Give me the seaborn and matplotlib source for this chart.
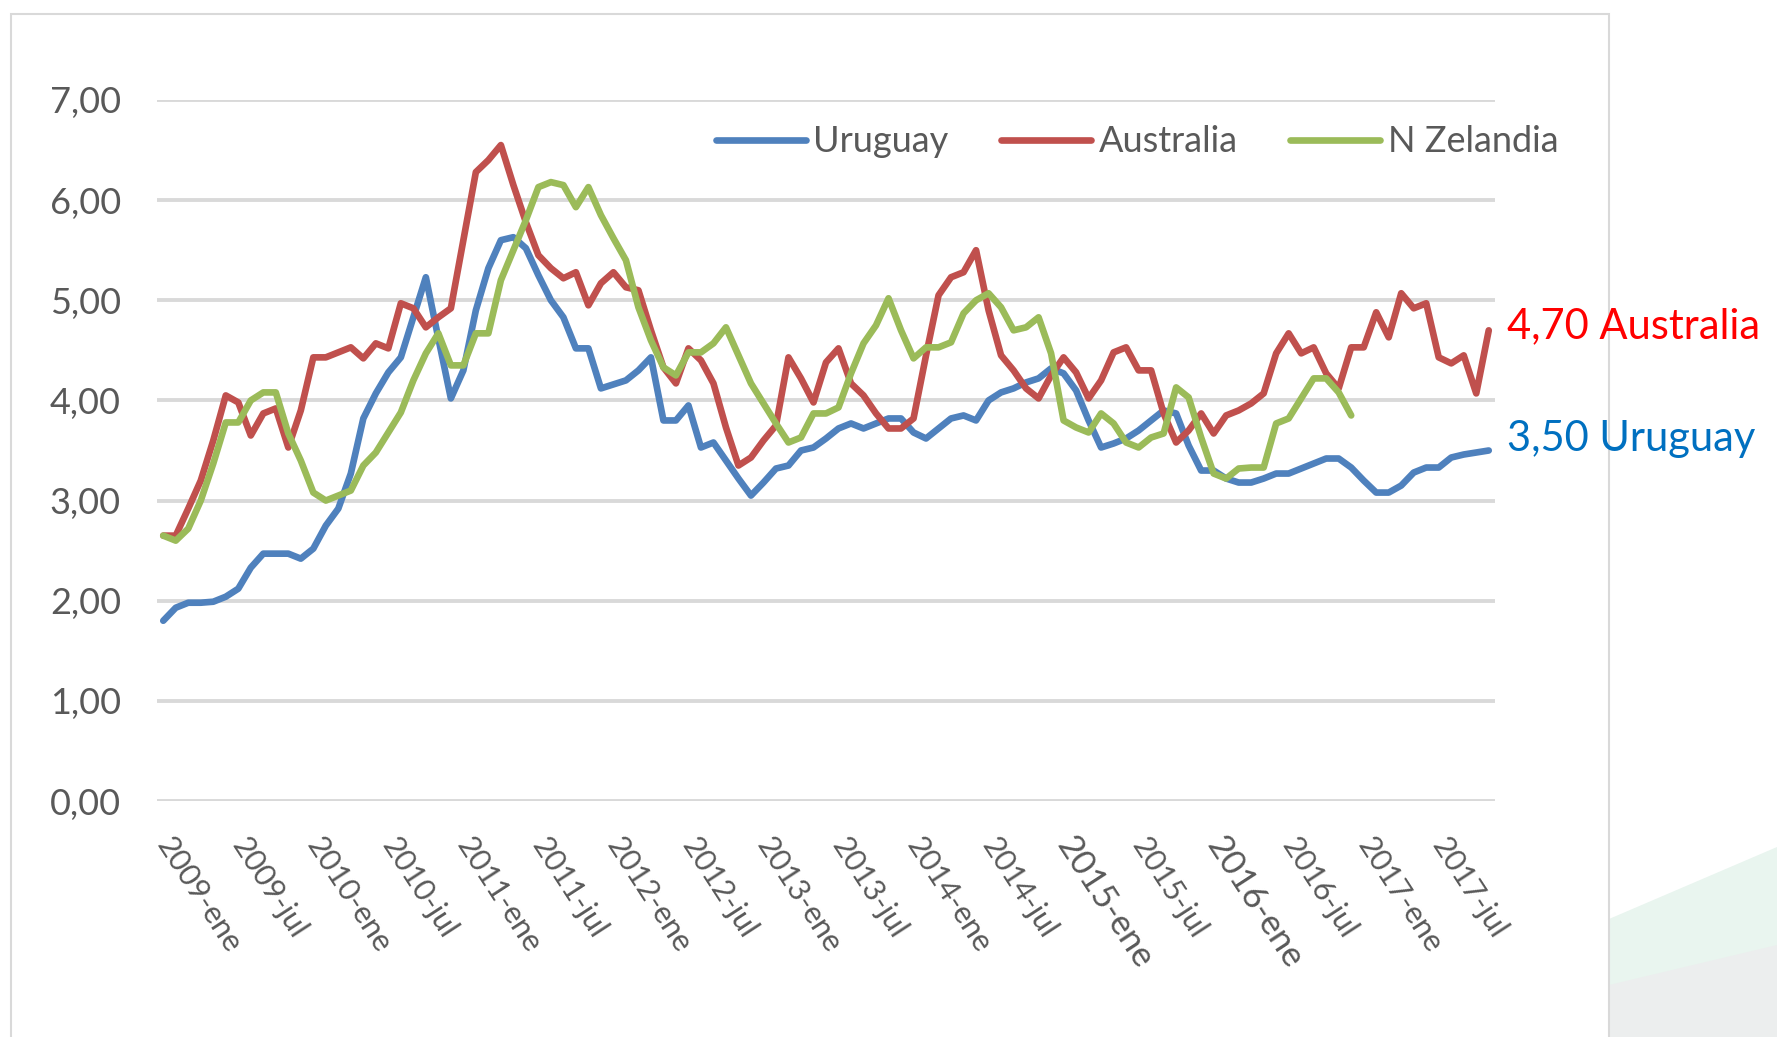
import numpy as np
import pandas as pd
import matplotlib
matplotlib.use("Agg")
import matplotlib.pyplot as plt
import seaborn as sns
from matplotlib import font_manager
from matplotlib.lines import Line2D
from matplotlib.patches import Rectangle, Polygon

# monthly series, 2009-ene .. 2017-nov
meses = ['ene', 'feb', 'mar', 'abr', 'may', 'jun', 'jul', 'ago', 'sep', 'oct', 'nov', 'dic']
periodos = [f"{a}-{m}" for a in range(2009, 2018) for m in meses][:107]

uruguay = [
    1.80, 1.93, 1.98, 1.98, 1.99, 2.04, 2.12, 2.33, 2.47, 2.47, 2.47, 2.42,
    2.52, 2.75, 2.92, 3.27, 3.82, 4.07, 4.28, 4.43, 4.83, 5.23, 4.62, 4.02,
    4.30, 4.90, 5.32, 5.60, 5.63, 5.52, 5.25, 5.00, 4.83, 4.52, 4.52, 4.12,
    4.16, 4.20, 4.30, 4.43, 3.80, 3.80, 3.95, 3.53, 3.58, 3.40, 3.22, 3.05,
    3.18, 3.32, 3.35, 3.50, 3.53, 3.62, 3.72, 3.77, 3.72, 3.77, 3.82, 3.82,
    3.68, 3.62, 3.72, 3.82, 3.85, 3.80, 4.00, 4.08, 4.12, 4.18, 4.22, 4.32,
    4.27, 4.10, 3.80, 3.53, 3.57, 3.62, 3.70, 3.80, 3.90, 3.87, 3.55, 3.30,
    3.30, 3.22, 3.18, 3.18, 3.22, 3.27, 3.27, 3.32, 3.37, 3.42, 3.42, 3.33,
    3.20, 3.08, 3.08, 3.15, 3.28, 3.33, 3.33, 3.43, 3.46, 3.48, 3.50,
]
australia = [
    2.65, 2.65, 2.92, 3.20, 3.60, 4.05, 3.98, 3.65, 3.87, 3.92, 3.53, 3.90,
    4.43, 4.43, 4.48, 4.53, 4.42, 4.57, 4.52, 4.97, 4.92, 4.73, 4.83, 4.92,
    5.60, 6.28, 6.40, 6.55, 6.15, 5.78, 5.45, 5.32, 5.22, 5.28, 4.95, 5.17,
    5.28, 5.13, 5.10, 4.70, 4.33, 4.17, 4.52, 4.40, 4.17, 3.73, 3.35, 3.43,
    3.60, 3.75, 4.43, 4.22, 3.98, 4.38, 4.52, 4.17, 4.05, 3.87, 3.72, 3.72,
    3.82, 4.45, 5.05, 5.23, 5.28, 5.50, 4.90, 4.45, 4.30, 4.12, 4.02, 4.25,
    4.43, 4.28, 4.02, 4.20, 4.48, 4.53, 4.30, 4.30, 3.87, 3.58, 3.70, 3.87,
    3.67, 3.85, 3.90, 3.97, 4.07, 4.47, 4.67, 4.47, 4.53, 4.27, 4.12, 4.53,
    4.53, 4.88, 4.63, 5.07, 4.92, 4.97, 4.43, 4.37, 4.45, 4.07, 4.70,
]
nz = [
    2.65, 2.60, 2.72, 3.00, 3.37, 3.78, 3.78, 4.00, 4.08, 4.08, 3.67, 3.40,
    3.08, 3.00, 3.05, 3.10, 3.35, 3.48, 3.68, 3.88, 4.20, 4.47, 4.67, 4.35,
    4.35, 4.67, 4.67, 5.20, 5.50, 5.80, 6.13, 6.18, 6.15, 5.93, 6.13, 5.85,
    5.62, 5.40, 4.93, 4.60, 4.33, 4.25, 4.48, 4.48, 4.57, 4.73, 4.45, 4.17,
    3.97, 3.77, 3.58, 3.63, 3.87, 3.87, 3.93, 4.27, 4.57, 4.75, 5.02, 4.70,
    4.42, 4.53, 4.53, 4.58, 4.87, 5.00, 5.07, 4.93, 4.70, 4.73, 4.83, 4.47,
    3.80, 3.73, 3.68, 3.87, 3.77, 3.58, 3.53, 3.63, 3.67, 4.13, 4.03, 3.63,
    3.27, 3.22, 3.32, 3.33, 3.33, 3.77, 3.82, 4.02, 4.22, 4.22, 4.08, 3.85,
]
nz = nz + [np.nan] * (len(periodos) - len(nz))

paises = ['Uruguay', 'Australia', 'N Zelandia']
colores = ['#4F81BD', '#C0504D', '#9BBB59']


def pick(names):
    for n in names:
        try:
            font_manager.findfont(font_manager.FontProperties(family=n), fallback_to_default=False)
            return n
        except Exception:
            pass
    return 'DejaVu Sans'


sns.set_style('white')
base_font = pick(['Lato', 'Open Sans', 'DejaVu Sans'])
plt.rcParams['font.family'] = [base_font, 'DejaVu Sans']

W, H = 1777, 1037
fig = plt.figure(figsize=(W / 100, H / 100), dpi=100)
fig.patch.set_facecolor('white')

# faint slide decoration on the right + frame around chart
fig.patches.append(Polygon([(1609 / W, 1 - 919 / H), (1.0, 1 - 847 / H), (1.0, 0.0), (1609 / W, 0.0)],
                           closed=True, transform=fig.transFigure, facecolor='#E9F5EF', edgecolor='none', zorder=-3))
fig.patches.append(Polygon([(1609 / W, 1 - 985 / H), (1.0, 1 - 945 / H), (1.0, 0.0), (1609 / W, 0.0)],
                           closed=True, transform=fig.transFigure, facecolor='#ECEEEE', edgecolor='none', zorder=-2))
fig.patches.append(Rectangle((11 / W, -0.02), (1609 - 11) / W, 1 - 14 / H + 0.02, transform=fig.transFigure,
                             facecolor='white', edgecolor='#D9D9D9', linewidth=1.5, zorder=-1))

ax = fig.add_axes([157 / W, 1 - 801 / H, (1495 - 157) / W, (801 - 100) / H])
ax.set_facecolor('none')

df = pd.DataFrame({'mes': range(len(periodos)), 'Uruguay': uruguay, 'Australia': australia, 'N Zelandia': nz})
largo = df.melt(id_vars='mes', var_name='pais', value_name='valor').dropna()

lw = 4.8
sns.lineplot(data=largo, x='mes', y='valor', hue='pais', hue_order=paises,
             palette=dict(zip(paises, colores)), linewidth=lw, legend=False, ax=ax,
             solid_joinstyle='round', solid_capstyle='round')

ax.set_xlim(-0.5, len(periodos) - 0.5)
ax.set_ylim(0, 7)
ax.set_xlabel('')
ax.set_ylabel('')
for s in ax.spines.values():
    s.set_visible(False)

ax.set_yticks(np.arange(0, 8, 1))
ax.set_yticklabels([f"{v:.2f}".replace('.', ',') for v in np.arange(0, 8, 1)])
ax.yaxis.grid(True, color='#D9D9D9', linewidth=2.8)
ax.set_axisbelow(True)
ax.tick_params(axis='y', length=0, pad=26, labelsize=26, labelcolor='#595959')

pos = list(range(0, len(periodos), 6))
ax.set_xticks(pos)
ax.set_xticklabels([periodos[p] for p in pos])
ax.tick_params(axis='x', length=0, pad=28, labelsize=22, labelcolor='#595959')
for lab in ax.get_xticklabels():
    lab.set_rotation(-57)
    lab.set_ha('left')
    lab.set_va('center')
    lab.set_rotation_mode('anchor')
    if lab.get_text() in ('2015-ene', '2016-ene'):
        lab.set_fontsize(25)

handles = [Line2D([], [], color=c, linewidth=lw, solid_capstyle='round') for c in colores]
leg = ax.legend(handles, paises, loc='center left', bbox_to_anchor=(716 / W, 1 - 142 / H),
                bbox_transform=fig.transFigure, ncol=3, frameon=False, handlelength=2.5,
                handletextpad=0.2, columnspacing=1.45, borderpad=0, borderaxespad=0,
                prop={'size': 26})
for t in leg.get_texts():
    t.set_color('#595959')

ax.annotate(f"{australia[-1]:.2f}".replace('.', ',') + ' Australia', xy=(len(periodos) - 1, australia[-1]),
            xytext=(13, 3), textcoords='offset points', ha='left', va='center',
            fontsize=30, color='#FF0000', annotation_clip=False)
ax.annotate(f"{uruguay[-1]:.2f}".replace('.', ',') + ' Uruguay', xy=(len(periodos) - 1, uruguay[-1]),
            xytext=(13, 8), textcoords='offset points', ha='left', va='center',
            fontsize=30, color='#0070C0', annotation_clip=False)

fig.savefig('out.png', dpi=100)
